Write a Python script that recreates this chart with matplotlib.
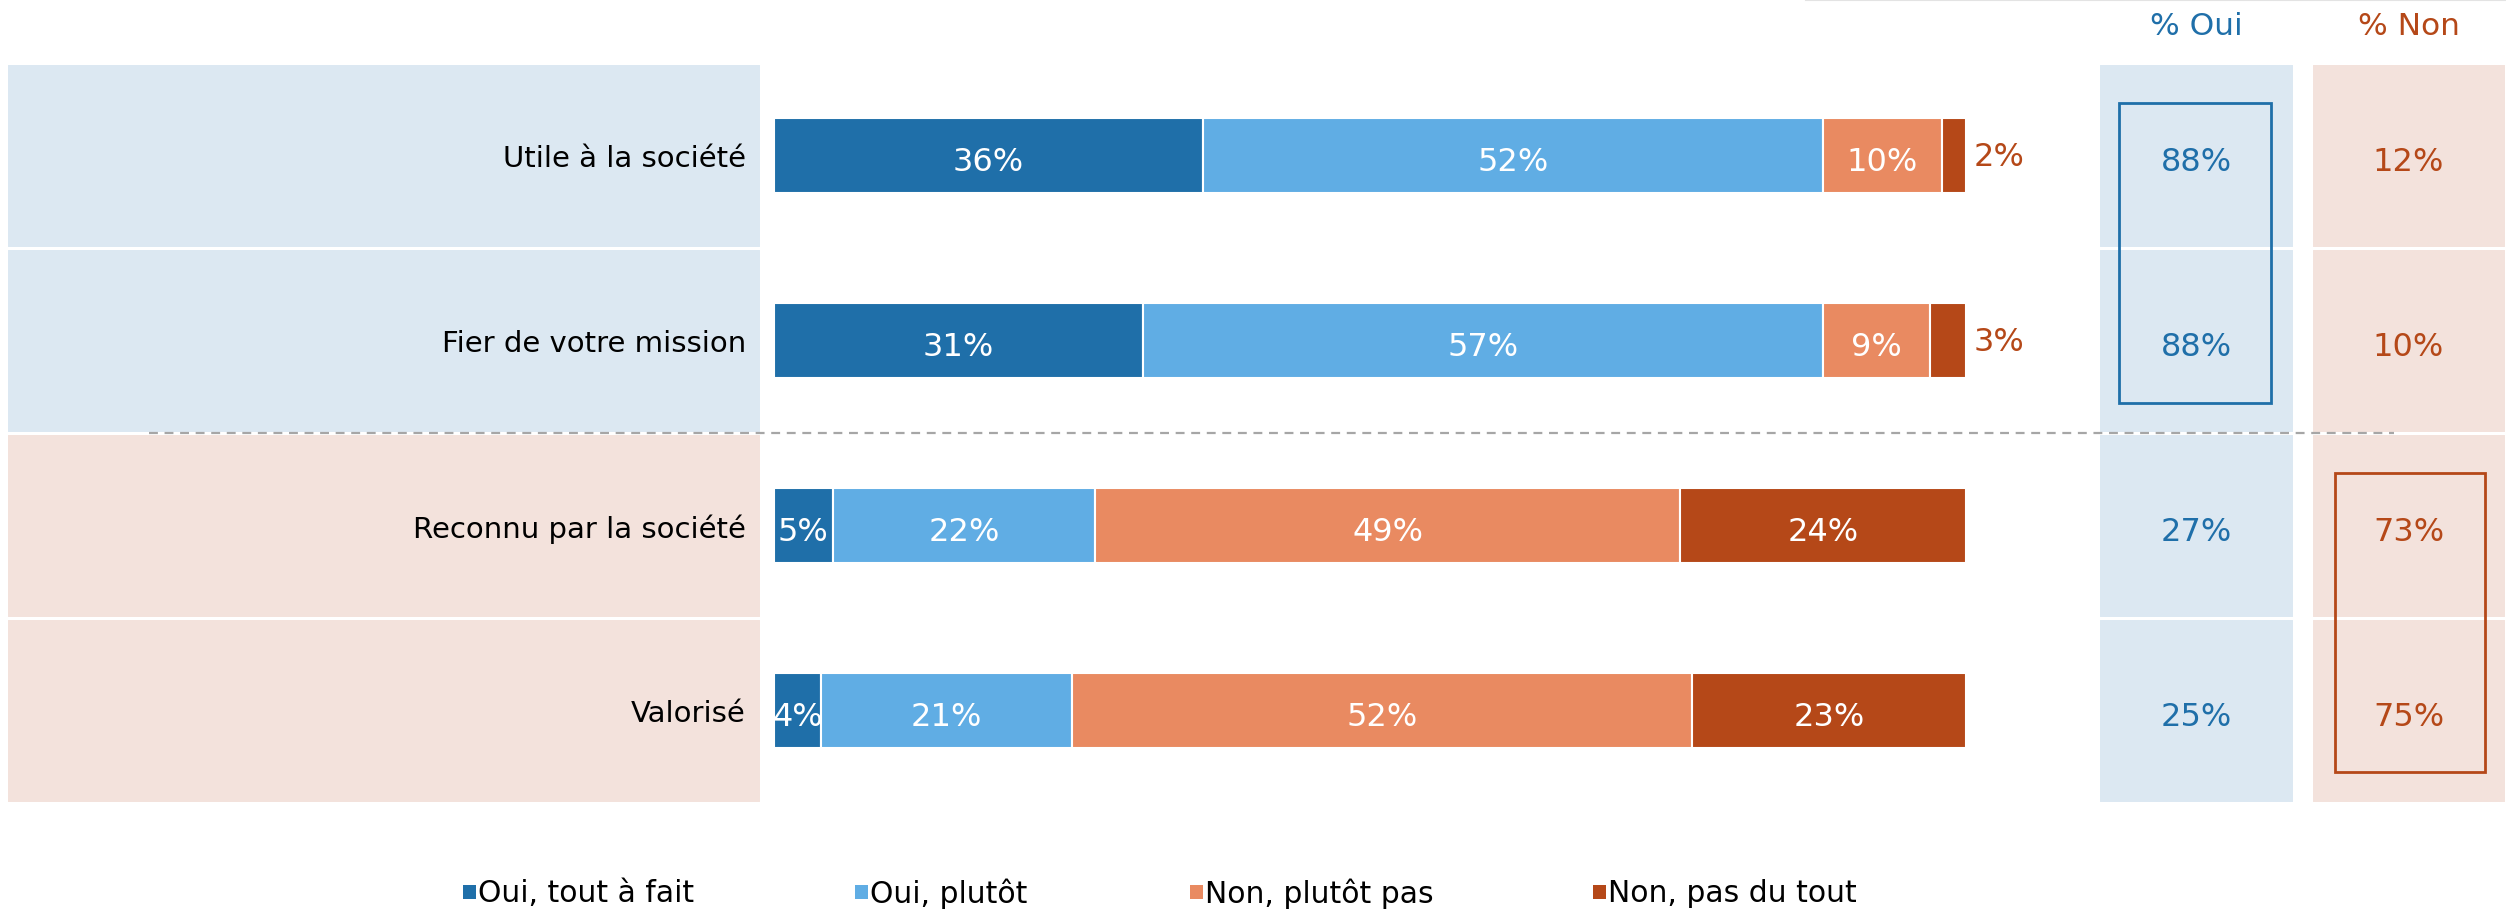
import matplotlib
matplotlib.use("Agg")
import matplotlib.pyplot as plt
from matplotlib.patches import Rectangle
from matplotlib.lines import Line2D

# ---------------- data ----------------
categories = ["Utile à la société", "Fier de votre mission",
              "Reconnu par la société", "Valorisé"]
series_names = ["Oui, tout à fait", "Oui, plutôt", "Non, plutôt pas", "Non, pas du tout"]
oui_tout = [36, 31, 5, 4]
oui_plutot = [52, 57, 22, 21]
non_plutot = [10, 9, 49, 52]
non_pas = [2, 3, 24, 23]
pct_oui = [88, 88, 27, 25]
pct_non = [12, 10, 73, 75]

# ---------------- style ----------------
series_colors = ["#1F6FA9", "#60ADE4", "#E98A61", "#B54818"]
blue_txt = "#1F6FA9"
orange_txt = "#B54818"
bg_blue = "#DCE8F2"
bg_pink = "#F3E2DC"
row_bg = [bg_blue, bg_blue, bg_pink, bg_pink]
FONT = "DejaVu Sans"
FS = 21
FS_PCT = 23

W, H = 2506, 912
fig = plt.figure(figsize=(W / 100, H / 100), dpi=100)
fig.patch.set_facecolor("white")


def add_ax(x0, x1, y0, y1, **kw):
    return fig.add_axes([x0 / W, 1 - y1 / H, (x1 - x0) / W, (y1 - y0) / H], **kw)


TOP, BOT = 64, 804
n = len(categories)
rows = list(range(n))
centers = [r + 0.5 for r in rows]
DY = 0.035  # percent-label nudge (rows)
DY_LAB = 0.015

# ---- left label panel ----
ax_lab = add_ax(6, 761, TOP, BOT)
ax_lab.set_xlim(0, 1)
ax_lab.set_ylim(n, 0)
ax_lab.axis("off")
ax_lab.barh(centers, [1] * n, height=1.0, left=0, color=row_bg,
            edgecolor="white", linewidth=2.2)
for c, lab in zip(centers, categories):
    ax_lab.text(0.98, c + DY_LAB, lab, ha="right", va="center", fontsize=FS,
                family=FONT, color="black")

# ---- stacked bars ----
ax_bar = add_ax(773.5, 1966, TOP, BOT)
ax_bar.set_xlim(0, 100)
ax_bar.set_ylim(n, 0)
ax_bar.axis("off")
series = [oui_tout, oui_plutot, non_plutot, non_pas]
lefts = [0] * n
for si, (vals, col) in enumerate(zip(series, series_colors)):
    ax_bar.barh(centers, vals, left=lefts, height=0.405, color=col,
                edgecolor="white", linewidth=1.5)
    for i, v in enumerate(vals):
        xc = lefts[i] + v / 2
        if si == len(series) - 1 and v <= 3:
            ax_bar.text(100.6, centers[i] + 0.005, f"{v}%", ha="left", va="center",
                        fontsize=FS_PCT, family=FONT, color=orange_txt)
        else:
            ax_bar.text(xc, centers[i] + DY, f"{v}%", ha="center", va="center",
                        fontsize=FS_PCT, family=FONT, color="white")
    lefts = [l + v for l, v in zip(lefts, vals)]

# ---- % Oui column ----
ax_oui = add_ax(2098, 2294, TOP, BOT)
ax_oui.set_xlim(0, 1)
ax_oui.set_ylim(n, 0)
ax_oui.axis("off")
ax_oui.barh(centers, [1] * n, height=1.0, color=bg_blue, edgecolor="white",
            linewidth=2.2)
for c, v in zip(centers, pct_oui):
    ax_oui.text(0.5, c + DY, f"{v}%", ha="center", va="center", fontsize=FS_PCT,
                family=FONT, color=blue_txt)
ax_oui.text(0.5, -0.205, "% Oui", ha="center", va="center", fontsize=22.5,
            family=FONT, color=blue_txt, clip_on=False)
ax_oui.add_patch(Rectangle((0.107, 0.215), 0.776, 1.625, fill=False,
                           edgecolor=blue_txt, linewidth=2, zorder=5))

# ---- % Non column ----
ax_non = add_ax(2311, 2506, TOP, BOT)
ax_non.set_xlim(0, 1)
ax_non.set_ylim(n, 0)
ax_non.axis("off")
ax_non.barh(centers, [1] * n, height=1.0, color=bg_pink, edgecolor="white",
            linewidth=2.2)
for c, v in zip(centers, pct_non):
    ax_non.text(0.5, c + DY, f"{v}%", ha="center", va="center", fontsize=FS_PCT,
                family=FONT, color=orange_txt)
ax_non.text(0.5, -0.205, "% Non", ha="center", va="center", fontsize=22.5,
            family=FONT, color=orange_txt, clip_on=False)
ax_non.add_patch(Rectangle((0.123, 2.215), 0.77, 1.615, fill=False,
                           edgecolor=orange_txt, linewidth=2, zorder=5))

# ---- overlay (dashed separator, top rule, legend) ----
ov = fig.add_axes([0, 0, 1, 1], zorder=10)
ov.set_xlim(0, W)
ov.set_ylim(H, 0)
ov.axis("off")
ov.patch.set_alpha(0)
ov.add_line(Line2D([149, 2394], [434, 434], color="#A6A6A6", linewidth=1.6,
                   linestyle=(0, (4, 3))))
ov.add_line(Line2D([1806, W], [1, 1], color="#E3E3E3", linewidth=1.5))

legend_x = [463, 855, 1190, 1593]
for x, name, col in zip(legend_x, series_names, series_colors):
    ov.add_patch(Rectangle((x, 886), 13, 14, facecolor=col, edgecolor="none"))
    ov.text(x + 15, 894, name, ha="left", va="center", fontsize=21.5,
            family=FONT, color="black")

fig.savefig("out.png", dpi=100, facecolor="white")
